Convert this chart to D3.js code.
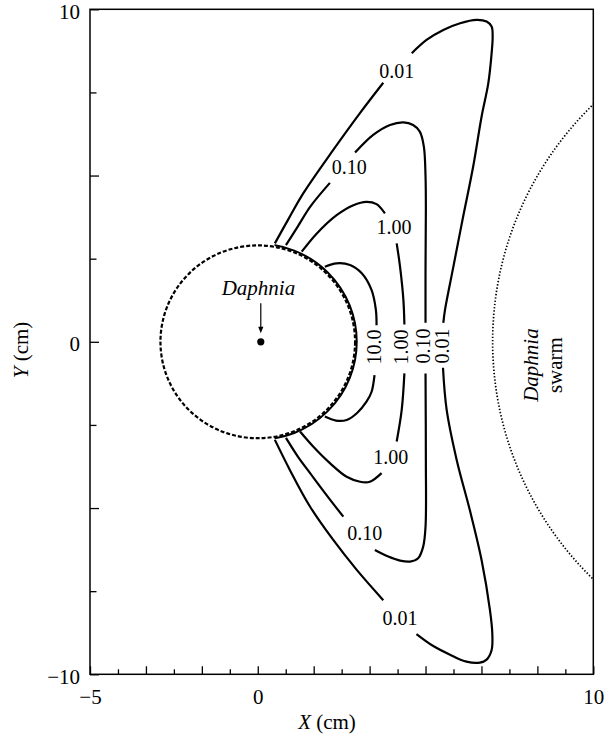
<!DOCTYPE html>
<html>
<head>
<meta charset="utf-8">
<script src="https://cdn.jsdelivr.net/npm/d3@7"></script>
<style>
  html, body { margin: 0; padding: 0; background: #fff; }
  svg { display: block; }
  text { font-family: "Liberation Serif", "Times New Roman", Times, serif; fill: #000; }
</style>
</head>
<body>
<svg id="chart" width="614" height="737"></svg>
<script>
// ---------------- DATA ----------------
const xDomain = [-5, 10];
const yDomain = [-10, 10];
const xTickValues = [-5, -4.1667, -3.3333, -2.5, -1.6667, -0.8333, 0, 0.8333, 1.6667, 2.5, 3.3333, 4.1667, 5, 5.8333, 6.6667, 7.5, 8.3333, 9.1667, 10];
const xMajorTicks = [-5, -3.3333, -1.6667, 0, 1.6667, 3.3333, 5, 6.6667, 8.3333, 10];
const xLabelValues = [-5, 0, 10];
const xLabelTexts = ["\u22125", "0", "10"];
const yTickValues = [-10, -7.5, -5, -2.5, 0, 2.5, 5, 7.5, 10];
const yMajorTicks = [-10, -5, 0, 5, 10];
const yLabelValues = [-10, 0, 10];
const yLabelTexts = ["\u221210", "0", "10"];

// Daphnia (prey) sphere and swarm boundary, cm
const daphniaRadius = 2.9;
const daphniaCenter = [0, 0];
const daphniaDot = [0.09, 0];
const swarmCenter = [17, 0];
const swarmRadius = 10;

// Contour lines (x, y in cm); null = gap where the label sits
const contour001 = [[0.51,2.96],[0.93,3.72],[1.36,4.47],[2.25,5.77],[3.04,6.87],[3.74,7.79], null,
  [4.59,8.68],[5.03,9.08],[5.53,9.38],[6.03,9.58],[6.52,9.68],[6.82,9.63],[6.97,9.48],[7.00,9.18],[6.97,8.68],
  [6.87,7.77],[6.67,6.77],[6.42,5.27],[6.12,3.76],[5.83,2.26],[5.58,0.96],[5.53,0.57], null,
  [5.52,-0.78],[5.63,-2.05],[5.93,-3.56],[6.32,-5.06],[6.67,-6.56],[6.92,-8.07],[6.99,-8.77],[6.97,-9.27],
  [6.82,-9.56],[6.62,-9.65],[6.22,-9.62],[5.73,-9.41],[5.23,-9.15],[4.73,-8.79], null,
  [3.74,-7.77],[2.95,-6.86],[2.25,-5.96],[1.56,-4.96],[0.96,-3.86],[0.51,-2.95]];
const contour010 = [[0.84,2.91],[1.20,3.48],[1.56,4.06],[2.15,4.78], null,
  [2.90,5.69],[3.44,6.22],[3.94,6.52],[4.34,6.60],[4.63,6.52],[4.83,6.32],[4.95,5.87],[5.00,4.97],[5.01,3.97],
  [5.00,2.26],[5.00,0.57], null,
  [5.00,-0.95],[5.01,-3.55],[5.00,-5.56],[4.93,-6.16],[4.78,-6.51],[4.54,-6.61],[4.24,-6.58],[3.89,-6.46],[3.49,-6.26], null,
  [2.55,-5.26],[2.05,-4.61],[1.56,-3.95],[1.20,-3.46],[0.84,-2.89]];
const contour100 = [[1.31,2.71],[1.76,3.26],[2.35,3.81],[2.85,4.11],[3.24,4.21],[3.54,4.14],[3.79,3.86], null,
  [4.14,2.96],[4.24,2.26],[4.34,1.26],[4.37,0.52], null,
  [4.37,-0.95],[4.29,-2.05],[4.14,-3.00], null,
  [3.69,-3.95],[3.34,-4.21],[3.05,-4.21],[2.65,-4.06],[2.15,-3.65],[1.65,-3.15],[1.26,-2.70]];
const contour1000 = [[2.00,2.26],[2.35,2.36],[2.75,2.31],[3.10,2.06],[3.39,1.56],[3.52,0.96],[3.54,0.50], null,
  [3.48,-1.00],[3.39,-1.51],[3.24,-1.80],[2.96,-2.14],[2.65,-2.35],[2.33,-2.37],[2.00,-2.25]];
const contours = [contour001, contour010, contour100, contour1000];

// Contour labels
const labelTexts  = ["0.01", "0.10", "1.00", "10.0", "1.00", "0.10", "0.01", "1.00", "0.10", "0.01"];
const labelX      = [4.14, 2.73, 4.06, 3.47, 4.27, 4.92, 5.49, 3.96, 3.19, 4.24];
const labelY      = [8.15, 5.27, 3.46, -0.16, -0.16, -0.13, -0.13, -3.46, -5.76, -8.32];
const labelAngle  = [0, 0, 0, -90, -90, -90, -90, 0, 0, 0];

// ---------------- CHART ----------------
const svg = d3.select("#chart");
const pLeft = 90, pRight = 593.3, pTop = 9.3, pBottom = 674.3;
const x = d3.scaleLinear().domain(xDomain).range([pLeft, pRight]);
const y = d3.scaleLinear().domain(yDomain).range([pBottom, pTop]);

const defs = svg.append("defs");
defs.append("clipPath").attr("id", "plotClip")
  .append("rect").attr("x", pLeft).attr("y", pTop).attr("width", pRight - pLeft).attr("height", pBottom - pTop);
defs.append("clipPath").attr("id", "arcClip")
  .append("rect").attr("x", x(0.5)).attr("y", pTop).attr("width", pRight - x(0.5)).attr("height", pBottom - pTop);

// frame
svg.append("rect").attr("x", pLeft).attr("y", pTop).attr("width", pRight - pLeft).attr("height", pBottom - pTop)
  .attr("fill", "none").attr("stroke", "#000").attr("stroke-width", 1.5);

// axes
function styleAxis(g) {
  g.select(".domain").remove();
  g.selectAll(".tick line").attr("stroke", "#000").attr("stroke-width", 1.3);
  g.selectAll(".tick text").attr("font-size", 21).attr("font-family", "Liberation Serif, Times New Roman, serif").attr("fill", "#000");
}
svg.append("g").attr("transform", `translate(0,${pBottom})`)
  .call(d3.axisBottom(x).tickValues(xTickValues.filter(v => !xMajorTicks.includes(v))).tickSizeInner(-5).tickSizeOuter(0).tickFormat(""))
  .call(styleAxis);
svg.append("g").attr("transform", `translate(0,${pBottom})`)
  .call(d3.axisBottom(x).tickValues(xMajorTicks).tickSizeInner(-8).tickSizeOuter(0).tickPadding(15)
    .tickFormat(v => { const i = xLabelValues.indexOf(v); return i >= 0 ? xLabelTexts[i] : ""; }))
  .call(styleAxis);
svg.append("g").attr("transform", `translate(${pLeft},0)`)
  .call(d3.axisLeft(y).tickValues(yTickValues.filter(v => !yMajorTicks.includes(v))).tickSizeInner(-6.5).tickSizeOuter(0).tickFormat(""))
  .call(styleAxis);
svg.append("g").attr("transform", `translate(${pLeft},0)`)
  .call(d3.axisLeft(y).tickValues(yMajorTicks).tickSizeInner(-9).tickSizeOuter(0).tickPadding(10)
    .tickFormat(v => { const i = yLabelValues.indexOf(v); return i >= 0 ? yLabelTexts[i] : ""; }))
  .call(styleAxis)
  .call(g => g.selectAll(".tick text").attr("dy", "0.42em"));

// axis titles
const xt = svg.append("text").attr("x", 327).attr("y", 729).attr("text-anchor", "middle").attr("font-size", 21);
xt.append("tspan").attr("font-style", "italic").text("X");
xt.append("tspan").text(" (cm)");
const yt = svg.append("text").attr("transform", "translate(28,350) rotate(-90)").attr("text-anchor", "middle").attr("font-size", 21);
yt.append("tspan").attr("font-style", "italic").text("Y");
yt.append("tspan").text(" (cm)");

// plot layer
const plot = svg.append("g").attr("clip-path", "url(#plotClip)");

// swarm boundary (dotted)
plot.append("ellipse")
  .attr("cx", x(swarmCenter[0])).attr("cy", y(swarmCenter[1]))
  .attr("rx", x(swarmCenter[0] + swarmRadius) - x(swarmCenter[0]))
  .attr("ry", y(swarmCenter[1]) - y(swarmCenter[1] + swarmRadius))
  .attr("fill", "none").attr("stroke", "#000").attr("stroke-width", 1.7).attr("stroke-dasharray", "1.4,1.9");

// Daphnia sphere (dashed)
plot.append("ellipse")
  .attr("cx", x(daphniaCenter[0])).attr("cy", y(daphniaCenter[1]))
  .attr("rx", x(daphniaRadius) - x(0)).attr("ry", y(0) - y(daphniaRadius))
  .attr("fill", "none").attr("stroke", "#000").attr("stroke-width", 2.2).attr("stroke-dasharray", "4,2");
// contours converging on the sphere surface (thick right arc)
plot.append("ellipse")
  .attr("clip-path", "url(#arcClip)")
  .attr("cx", x(daphniaCenter[0])).attr("cy", y(daphniaCenter[1]))
  .attr("rx", x(daphniaRadius + 0.05) - x(0)).attr("ry", y(0) - y(daphniaRadius + 0.05))
  .attr("fill", "none").attr("stroke", "#000").attr("stroke-width", 2);

// contours
const line = d3.line().defined(d => d !== null).x(d => x(d[0])).y(d => y(d[1])).curve(d3.curveCatmullRom.alpha(0.5));
plot.selectAll("path.contour").data(contours).join("path").attr("class", "contour")
  .attr("d", line).attr("fill", "none").attr("stroke", "#000").attr("stroke-width", 2.2)
  .attr("stroke-linejoin", "round");

// contour labels
labelTexts.forEach((t, i) => {
  plot.append("text")
    .attr("transform", `translate(${x(labelX[i])},${y(labelY[i])}) rotate(${labelAngle[i]})`)
    .attr("text-anchor", "middle").attr("dy", "0.35em").attr("font-size", 20).text(t);
});

// Daphnia marker, arrow, label
plot.append("circle").attr("cx", x(daphniaDot[0])).attr("cy", y(daphniaDot[1])).attr("r", 3.6).attr("fill", "#000");
const ax = x(daphniaDot[0]);
plot.append("line").attr("x1", ax).attr("x2", ax).attr("y1", y(1.16)).attr("y2", y(0.42))
  .attr("stroke", "#000").attr("stroke-width", 1.2);
plot.append("path")
  .attr("d", `M${ax - 2.6},${y(0.45)} L${ax + 2.6},${y(0.45)} L${ax},${y(0.26)} Z`).attr("fill", "#000");
plot.append("text").attr("x", x(0.02)).attr("y", y(1.4)).attr("text-anchor", "middle")
  .attr("font-size", 21).attr("font-style", "italic").text("Daphnia");

// swarm label
plot.append("text").attr("transform", `translate(${x(8.35)},${y(-0.7)}) rotate(-90)`)
  .attr("text-anchor", "middle").attr("font-size", 21).attr("font-style", "italic").text("Daphnia");
plot.append("text").attr("transform", `translate(${x(9.06)},${y(-0.7)}) rotate(-90)`)
  .attr("text-anchor", "middle").attr("font-size", 21).text("swarm");
</script>
</body>
</html>
